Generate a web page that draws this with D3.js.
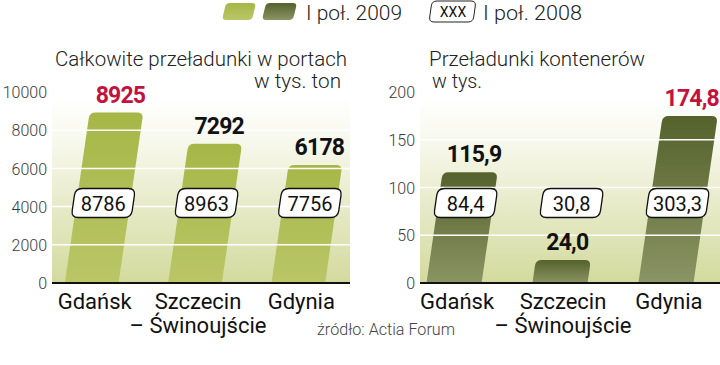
<!DOCTYPE html>
<html>
<head>
<meta charset="utf-8">
<script src="https://cdn.jsdelivr.net/npm/d3@7"></script>
<style>
  html, body { margin: 0; padding: 0; background: #fff; }
  svg { display: block; }
</style>
</head>
<body>
<div id="chart"></div>
<script>
// data
const categories = ['Gdańsk', 'Szczecin', 'Gdynia'];
const categoryLines = [['Gdańsk'], ['Szczecin', '– Świnoujście'], ['Gdynia']];
const cargo2009 = [8925, 7292, 6178];
const cargo2008 = [8786, 8963, 7756];
const containers2009 = [115.9, 24.0, 174.8];
const containers2008 = [84.4, 30.8, 303.3];
const cargoTicks = [0, 2000, 4000, 6000, 8000, 10000];
const containerTicks = [0, 50, 100, 150, 200];

const width = 720, height = 365;
const FONT = "Roboto, 'Liberation Sans', sans-serif";
const RED = '#c3123d';
const slope = 0.145;     // bars lean to the right
const boxY = 203;        // row of the 2008 boxes

const pl = d3.formatLocale({decimal: ',', thousands: ' ', grouping: [3], currency: ['', ' zł']});

const svg = d3.select('#chart').append('svg')
    .attr('width', width).attr('height', height)
    .attr('viewBox', `0 0 ${width} ${height}`);

const defs = svg.append('defs');
function vGrad(id, stops) {
    const g = defs.append('linearGradient').attr('id', id)
        .attr('x1', 0).attr('y1', 0).attr('x2', 0).attr('y2', 1);
    stops.forEach(s => g.append('stop').attr('offset', s[0]).attr('stop-color', s[1]));
}
vGrad('bg-grad', [['0%', '#ffffff'], ['25%', '#f7f8ec'], ['100%', '#d3da9d']]);
vGrad('light-grad', [['0%', '#a6b747'], ['100%', '#bac667']]);
vGrad('dark-grad', [['0%', '#55622c'], ['100%', '#8b9464']]);

// rounded polygon helper
function roundPoly(pts, radii) {
    const n = pts.length;
    const toward = (p, q, r) => {
        const len = Math.hypot(q[0] - p[0], q[1] - p[1]) || 1;
        const t = Math.min(r, len / 2) / len;
        return [p[0] + (q[0] - p[0]) * t, p[1] + (q[1] - p[1]) * t];
    };
    let d = '';
    pts.forEach((p, i) => {
        const a = toward(p, pts[(i + n - 1) % n], radii[i]);
        const b = toward(p, pts[(i + 1) % n], radii[i]);
        d += (i === 0 ? 'M' : 'L') + a.join(',') + 'Q' + p.join(',') + ' ' + b.join(',');
    });
    return d + 'Z';
}
function para(x, yB, w, h, dx, radii) {
    return roundPoly([[x, yB], [x + w, yB], [x + w + dx, yB - h], [x + dx, yB - h]], radii);
}

// legend
svg.append('path').attr('d', para(222, 20, 30, 17, 4, [4, 4, 4, 4])).attr('fill', 'url(#light-grad)');
svg.append('path').attr('d', para(262, 20, 31, 17, 4, [4, 4, 4, 4])).attr('fill', 'url(#dark-grad)');
svg.append('text').attr('x', 306).attr('y', 20).attr('textLength', 96).attr('lengthAdjust', 'spacingAndGlyphs')
    .style('font', `300 21px ${FONT}`).attr('fill', '#222').text('I poł. 2009');
svg.append('path').attr('d', para(429, 22, 44, 21, 3, [5, 5, 5, 5]))
    .attr('fill', '#fff').attr('stroke', '#222').attr('stroke-width', 1);
svg.append('text').attr('x', 453).attr('y', 17).attr('text-anchor', 'middle')
    .style('font', `400 14px ${FONT}`).attr('fill', '#111').text('XXX');
svg.append('text').attr('x', 483).attr('y', 20).attr('textLength', 99).attr('lengthAdjust', 'spacingAndGlyphs')
    .style('font', `300 21px ${FONT}`).attr('fill', '#222').text('I poł. 2008');

// one panel
function panel(opts) {
    const g = svg.append('g');
    const y = d3.scaleLinear().domain(opts.domain).range([283, 92]);
    const x = d3.scaleBand().domain(categories).range(opts.xRange)
        .paddingInner(0.48).paddingOuter(opts.pad);

    g.append('rect').attr('x', opts.plotX[0]).attr('y', 96)
        .attr('width', opts.plotX[1] - opts.plotX[0]).attr('height', y(0) - 96)
        .attr('fill', 'url(#bg-grad)');

    const yB = y(0);
    const maxV = d3.max(opts.v2009);
    const bars = categories.map((c, i) => {
        const x0 = x(c), w = x.bandwidth(), yT = y(opts.v2009[i]);
        const dx = slope * (yB - yT);
        return {c, i, x0, w, yT, dx, v: opts.v2009[i], old: opts.v2008[i]};
    });

    g.selectAll('path.bar').data(bars).join('path').attr('class', 'bar')
        .attr('d', d => para(d.x0, yB, d.w, yB - d.yT, d.dx, [0, 0, 6, 6]))
        .attr('fill', opts.fill);

    // white grid lines over bars
    g.selectAll('line.grid').data(opts.ticks.filter(t => t > 0)).join('line').attr('class', 'grid')
        .attr('x1', opts.plotX[0]).attr('x2', opts.plotX[1])
        .attr('y1', d => y(d)).attr('y2', d => y(d))
        .attr('stroke', '#fff').attr('stroke-width', 1.5);

    // baseline
    g.append('line').attr('x1', opts.plotX[0]).attr('x2', opts.plotX[1])
        .attr('y1', yB).attr('y2', yB).attr('stroke', '#111').attr('stroke-width', 2);

    // tick labels
    const axis = d3.axisLeft(y).tickValues(opts.ticks).tickSize(0).tickPadding(0).tickFormat(d3.format('d'));
    const ax = g.append('g').attr('transform', `translate(${opts.tickX},0)`).call(axis);
    ax.select('.domain').remove();
    ax.selectAll('text').style('font', `300 16px ${FONT}`).attr('fill', '#3a3a3a').attr('dy', '0.35em');

    // 2009 values, kept inside the picture
    g.selectAll('text.val').data(bars).join('text').attr('class', 'val')
        .attr('y', d => d.yT - 10)
        .attr('text-anchor', 'middle')
        .style('font', `700 23px ${FONT}`).style('letter-spacing', '-0.8px')
        .attr('fill', d => d.v === maxV ? RED : '#111')
        .text(d => opts.fmt(d.v))
        .attr('x', function(d) {
            const half = this.getComputedTextLength() / 2;
            return Math.min(d.x0 + d.dx + d.w / 2 + 4, width - 1 - half);
        });

    // 2008 boxes
    const bw = 60, bh = 29;
    const boxes = g.selectAll('g.box').data(bars).join('g').attr('class', 'box')
        .attr('transform', d => `translate(${d.x0 + d.w / 2 + slope * (yB - boxY)},${boxY})`);
    boxes.append('path')
        .attr('d', para(-bw / 2 - slope * bh / 2, bh / 2, bw, bh, slope * bh, [7, 7, 7, 7]))
        .attr('fill', '#fff').attr('stroke', '#111').attr('stroke-width', 1.3);
    boxes.append('text').attr('text-anchor', 'middle').attr('y', 7.5)
        .style('font', `400 20px ${FONT}`).attr('fill', '#111')
        .text(d => opts.fmt(d.old));

    // category labels
    const cat = g.selectAll('text.cat').data(categoryLines).join('text').attr('class', 'cat')
        .attr('x', (d, i) => x(categories[i]) + x.bandwidth() / 2 + 3)
        .attr('y', 309).attr('text-anchor', 'middle')
        .style('font', `400 22px ${FONT}`).attr('fill', '#111');
    cat.selectAll('tspan').data(d => d).join('tspan')
        .attr('x', function() { return this.parentNode.getAttribute('x'); })
        .attr('dy', (d, j) => j === 0 ? 0 : 24)
        .text(d => d);

    // titles
    opts.titles.forEach(t => {
        g.append('text').attr('x', t.x).attr('y', t.y).attr('text-anchor', t.anchor || 'start')
            .attr('textLength', t.len).attr('lengthAdjust', 'spacingAndGlyphs')
            .style('font', `300 21px ${FONT}`).attr('fill', '#222').text(t.text);
    });
}

panel({
    domain: [0, 10000], ticks: cargoTicks, v2009: cargo2009, v2008: cargo2008,
    xRange: [38, 352], pad: 0.26, plotX: [52, 350], tickX: 47,
    fill: 'url(#light-grad)', fmt: pl.format('d'),
    titles: [
        {text: 'Całkowite przeładunki w portach', x: 55, y: 66, len: 292},
        {text: 'w tys. ton', x: 341, y: 88, len: 87, anchor: 'end'}
    ]
});
panel({
    domain: [0, 200], ticks: containerTicks, v2009: containers2009, v2008: containers2008,
    xRange: [400, 720], pad: 0.25, plotX: [420, 720], tickX: 415,
    fill: 'url(#dark-grad)', fmt: pl.format('.1f'),
    titles: [
        {text: 'Przeładunki kontenerów', x: 429, y: 66, len: 216},
        {text: 'w tys.', x: 432, y: 88, len: 50}
    ]
});

// source
svg.append('text').attr('x', 317).attr('y', 335).attr('textLength', 138).attr('lengthAdjust', 'spacingAndGlyphs')
    .style('font', `300 17px ${FONT}`).attr('fill', '#444').text('źródło: Actia Forum');
</script>
</body>
</html>
